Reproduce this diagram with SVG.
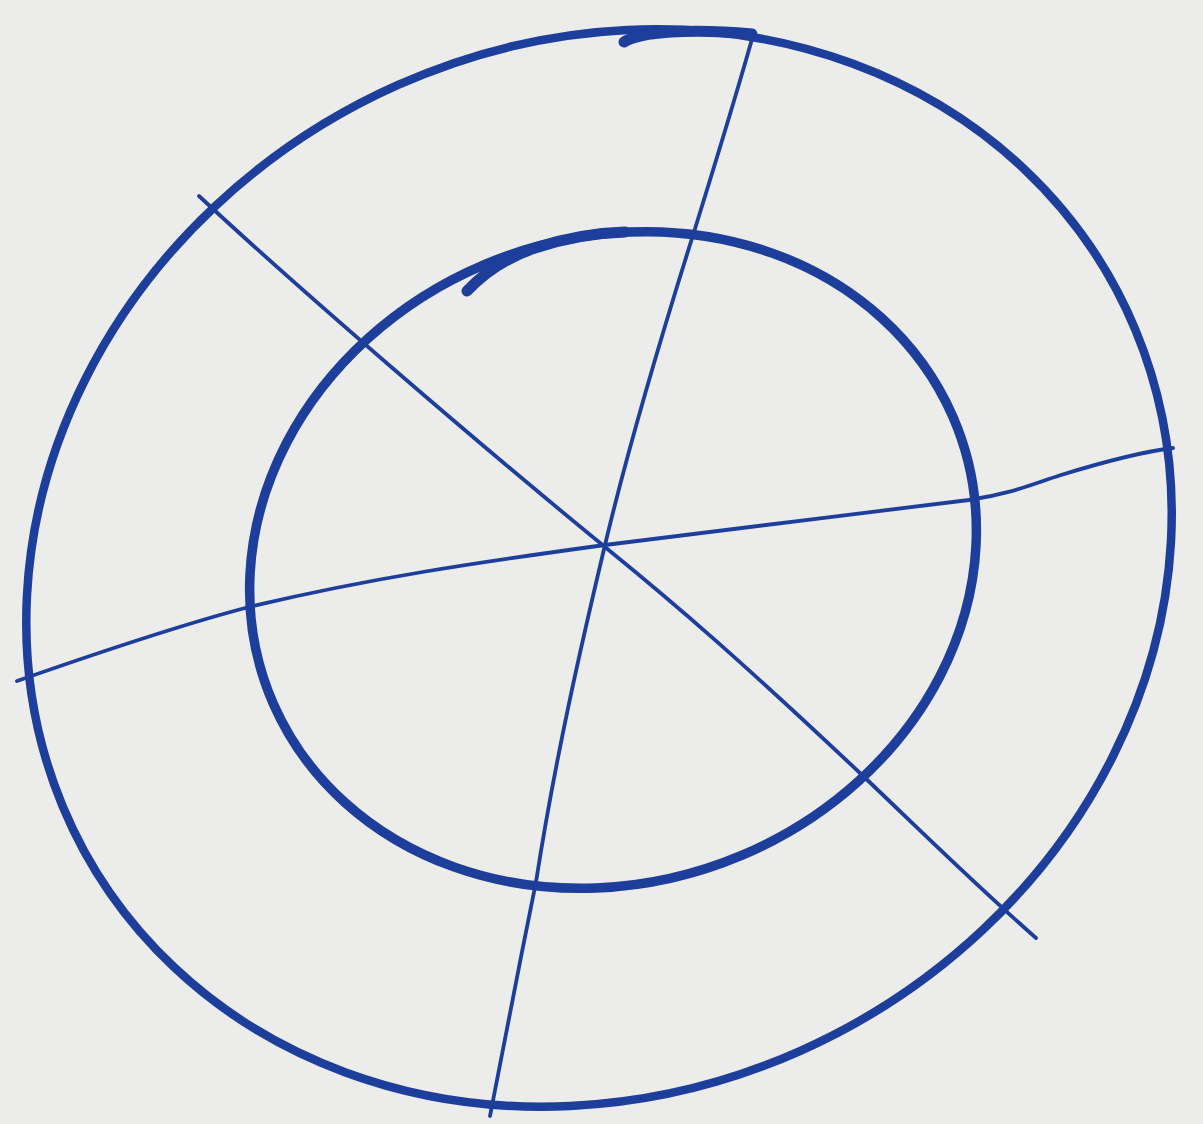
<svg xmlns="http://www.w3.org/2000/svg" width="1203" height="1124" viewBox="0 0 1203 1124">
<style>
.ring{fill:none;stroke:#1d3e9b;stroke-linecap:round;stroke-linejoin:round}
.spoke{fill:none;stroke:#1d3e9b;stroke-width:3.8;stroke-linecap:round;stroke-linejoin:round}
</style>
<rect width="1203" height="1124" fill="#ececeb"/>
<g id="outer-ring">
<circle class="ring" r="1" stroke-width="8.5" vector-effect="non-scaling-stroke" transform="translate(599,568) scale(572,538) rotate(45) scale(0.95,1.05)"/>
<path class="ring" stroke-width="11" d="M624,42 C640,32 690,28 752,34"/>
</g>
<g id="inner-ring">
<circle class="ring" r="1" stroke-width="9.5" vector-effect="non-scaling-stroke" transform="translate(613,560) scale(363,328) rotate(45) scale(0.955,1.045)"/>
<path class="ring" stroke-width="11" d="M467,291 C485,272 505,258 535,248 C565,238 595,233 625,232"/>
</g>
<g id="spokes">
<path class="spoke" d="M199,196 C300,290 480,445 605,547 C680,608 740,660 861,774 C920,830 970,880 1036,938"/>
<path class="spoke" d="M754,32 C735,100 710,180 694,232 C660,340 630,440 605,545 C580,650 555,760 536,882 C520,960 505,1040 490,1116"/>
<path class="spoke" d="M17,681 C100,652 180,625 249,607 C370,578 480,562 605,545 C720,530 850,515 969,500 C1010,494 1030,485 1061,475 C1100,463 1140,452 1173,448"/>
</g>
</svg>
